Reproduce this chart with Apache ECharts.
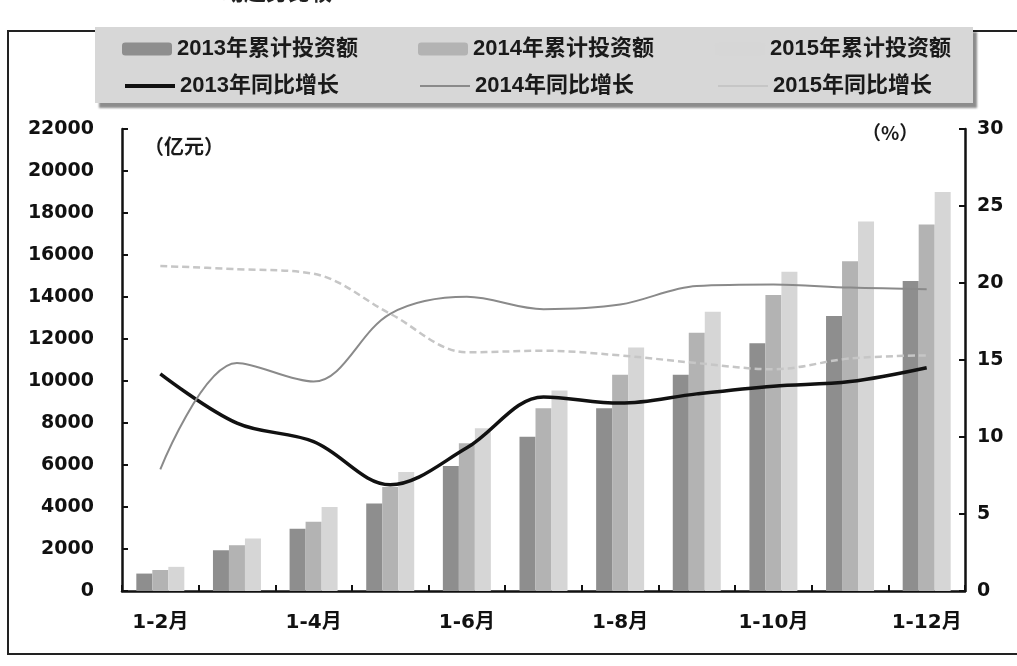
<!DOCTYPE html>
<html>
<head>
<meta charset="utf-8">
<script src="https://cdn.jsdelivr.net/npm/echarts@6/dist/echarts.min.js"></script>
<style>
html,body{margin:0;padding:0;background:#fff;}
#chart{width:1017px;height:666px;}
</style>
</head>
<body>
<div id="chart"></div>
<script>
// ---- data ----
var categories = ['1-2月','1-3月','1-4月','1-5月','1-6月','1-7月','1-8月','1-9月','1-10月','1-11月','1-12月'];
var inv2013 = [830, 1940, 2960, 4170, 5950, 7350, 8700, 10300, 11800, 13100, 14760];
var inv2014 = [1000, 2180, 3300, 4950, 7040, 8700, 10300, 12300, 14100, 15700, 17450];
var inv2015 = [1150, 2500, 4000, 5670, 7750, 9550, 11600, 13300, 15200, 17600, 19000];
var growth2013 = [14.1, 10.9, 9.7, 6.9, 9.3, 12.6, 12.2, 12.8, 13.3, 13.6, 14.5];
var growth2014 = [7.9, 14.8, 13.6, 18.0, 19.1, 18.3, 18.6, 19.8, 19.9, 19.7, 19.6];
var growth2015 = [21.1, 20.9, 20.6, 18.0, 15.5, 15.6, 15.3, 14.8, 14.4, 15.1, 15.3];
var leftTicks = {min: 0, max: 22000, interval: 2000};
var rightTicks = {min: 0, max: 30, interval: 5};
var names = ['2013年累计投资额','2014年累计投资额','2015年累计投资额','2013年同比增长','2014年同比增长','2015年同比增长'];
var unitLeft = '（亿元）';
var unitRight = '（%）';
var titleFragment = '动趋势比较';

var numFont = '"DejaVu Sans", "Noto Sans CJK SC", sans-serif';
var legFont = '"Liberation Sans", "Noto Sans CJK SC", sans-serif';
var c2013 = '#8e8e8e', c2014 = '#b3b3b3', c2015 = '#d6d6d6';

function leg(name, left, top, opts) {
  return Object.assign({
    data: [name], left: left, top: top, orient: 'horizontal',
    itemWidth: 50, itemHeight: 13, itemGap: 5,
    textStyle: {fontSize: 22, fontWeight: 'bold', color: '#1a1a1a', fontFamily: legFont},
    backgroundColor: 'transparent', selectedMode: false
  }, opts || {});
}

var chart = echarts.init(document.getElementById('chart'), null, {renderer: 'canvas'});
chart.setOption({
  backgroundColor: '#ffffff',
  animation: false,
  graphic: [
    {type: 'rect', z: -10, shape: {x: 8, y: 31, width: 1040, height: 623}, style: {fill: 'none', stroke: '#222', lineWidth: 2}},
    {type: 'rect', z: -5, shape: {x: 95, y: 27, width: 878, height: 76},
     style: {fill: '#d7d7d7', shadowColor: 'rgba(0,0,0,0.45)', shadowOffsetX: 4, shadowOffsetY: 5, shadowBlur: 2}},
    {type: 'text', x: 222, y: -19, style: {text: titleFragment, font: 'bold 22px "Noto Sans CJK SC"', fill: '#222'}},
    {type: 'text', x: 144, y: 136, style: {text: unitLeft, font: 'bold 20px "Noto Sans CJK SC"', fill: '#1a1a1a'}},
    {type: 'text', x: 862, y: 123, style: {text: unitRight, font: 'bold 19px "Noto Sans CJK SC"', fill: '#1a1a1a'}}
  ],
  legend: [
    leg(names[0], 117, 33),
    leg(names[1], 413, 33),
    leg(names[2], 710, 33),
    leg(names[3], 120, 70, {itemHeight: 4, icon: 'rect'}),
    leg(names[4], 415, 70, {itemHeight: 2, icon: 'rect'}),
    leg(names[5], 713, 70, {itemHeight: 2, icon: 'rect'})
  ],
  grid: {left: 122, right: 52, top: 129, bottom: 75, containLabel: false},
  xAxis: {
    type: 'category', data: categories, boundaryGap: true,
    axisLine: {show: true, lineStyle: {color: '#111', width: 2.5}},
    axisTick: {show: true, inside: true, interval: 0, length: 6, lineStyle: {color: '#111', width: 2}},
    axisLabel: {interval: 1, margin: 22, fontSize: 20, fontWeight: 'bold', color: '#111', fontFamily: numFont},
    splitLine: {show: false}
  },
  yAxis: [
    {
      type: 'value', min: leftTicks.min, max: leftTicks.max, interval: leftTicks.interval, position: 'left',
      axisLine: {show: true, lineStyle: {color: '#111', width: 2.5}},
      axisTick: {show: true, inside: true, length: 6, lineStyle: {color: '#111', width: 2}},
      axisLabel: {margin: 28, fontSize: 19, fontWeight: 'bold', color: '#111', fontFamily: numFont,
                  formatter: function (v) { return String(v); }},
      splitLine: {show: false}
    },
    {
      type: 'value', min: rightTicks.min, max: rightTicks.max, interval: rightTicks.interval, position: 'right',
      axisLine: {show: true, lineStyle: {color: '#111', width: 2.5}},
      axisTick: {show: true, inside: true, length: 6, lineStyle: {color: '#111', width: 2}},
      axisLabel: {margin: 12, fontSize: 19, fontWeight: 'bold', color: '#111', fontFamily: numFont,
                  formatter: function (v) { return String(v); }},
      splitLine: {show: false}
    }
  ],
  series: [
    {name: names[0], type: 'bar', data: inv2013, barWidth: 16, barGap: '0%', itemStyle: {color: c2013}},
    {name: names[1], type: 'bar', data: inv2014, barWidth: 16, barGap: '0%', itemStyle: {color: c2014}},
    {name: names[2], type: 'bar', data: inv2015, barWidth: 16, barGap: '0%', itemStyle: {color: c2015}},
    {name: names[3], type: 'line', yAxisIndex: 1, data: growth2013, smooth: 0.35, symbol: 'none',
     lineStyle: {color: '#111', width: 3.5}, itemStyle: {color: '#111'}},
    {name: names[4], type: 'line', yAxisIndex: 1, data: growth2014, smooth: 0.35, symbol: 'none',
     lineStyle: {color: '#8a8a8a', width: 2}, itemStyle: {color: '#8a8a8a'}},
    {name: names[5], type: 'line', yAxisIndex: 1, data: growth2015, smooth: 0.35, symbol: 'none',
     lineStyle: {color: '#c6c6c6', width: 2.5, type: [7, 4]}, itemStyle: {color: '#c6c6c6'}}
  ]
});
</script>
</body>
</html>
